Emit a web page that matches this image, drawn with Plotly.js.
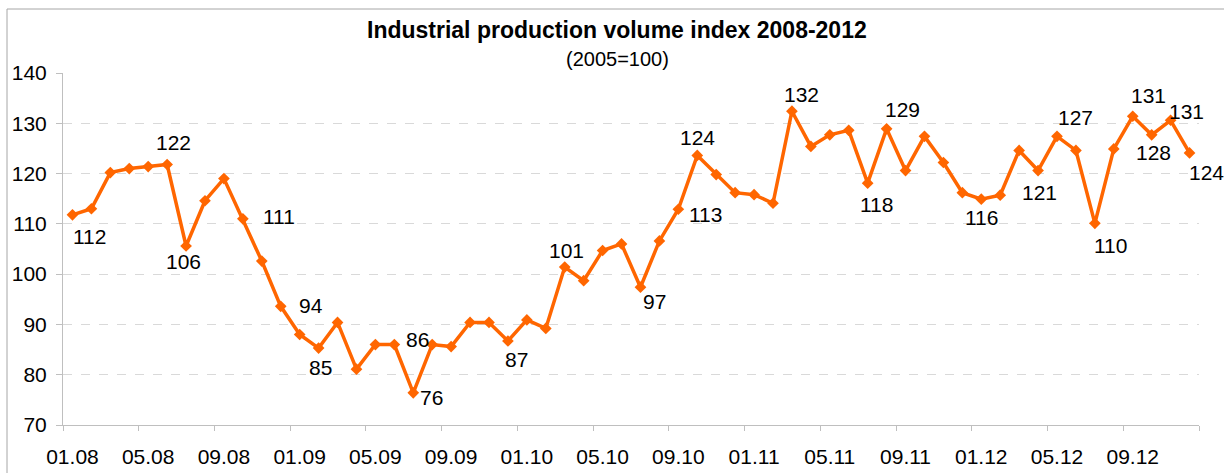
<!DOCTYPE html>
<html>
<head>
<meta charset="utf-8">
<script src="https://cdn.plot.ly/plotly-3.0.1.min.js"></script>
<style>html,body{margin:0;padding:0;background:#fff;}#chart{width:1224px;height:473px;}</style>
</head>
<body>
<div id="chart"></div>
<script>
// ---- data ----
const months = [
 "01.08","02.08","03.08","04.08","05.08","06.08","07.08","08.08","09.08","10.08","11.08","12.08",
 "01.09","02.09","03.09","04.09","05.09","06.09","07.09","08.09","09.09","10.09","11.09","12.09",
 "01.10","02.10","03.10","04.10","05.10","06.10","07.10","08.10","09.10","10.10","11.10","12.10",
 "01.11","02.11","03.11","04.11","05.11","06.11","07.11","08.11","09.11","10.11","11.11","12.11",
 "01.12","02.12","03.12","04.12","05.12","06.12","07.12","08.12","09.12","10.12","11.12","12.12"
];
const indexValues = [
 111.8,113.0,120.2,121.0,121.4,121.8,105.6,114.6,119.0,111.0,102.6,93.6,
 88.0,85.3,90.4,81.1,86.0,86.0,76.4,86.0,85.6,90.4,90.4,86.7,
 90.9,89.2,101.4,98.7,104.7,106.0,97.4,106.6,112.9,123.6,119.8,116.2,
 115.8,114.1,132.4,125.4,127.7,128.6,118.1,128.9,120.6,127.4,122.2,116.2,
 114.9,115.7,124.6,120.6,127.4,124.6,110.1,124.9,131.4,127.7,130.6,124.1
];
const tickLabels = ["01.08","05.08","09.08","01.09","05.09","09.09","01.10","05.10","09.10","01.11","05.11","09.11","01.12","05.12","09.12"];
const labelledMonths = ["01.08","06.08","07.08","10.08","12.08","02.09","07.09","08.09","12.09","03.10","07.10","09.10","10.10","03.11","07.11","08.11","12.11","04.12","05.12","07.12","09.12","10.12","11.12","12.12"];
const titleText = "Industrial production volume index 2008-2012";
const subtitleText = "(2005=100)";

// ---- label placement (style) ----
const labelShift = {
 "01.08":[17,-22],"06.08":[6,22],"07.08":[-3,-16],"10.08":[36,2],"12.08":[30,1],
 "02.09":[2,-19],"07.09":[18,-5],"08.09":[-15,5],"12.09":[9,-18],"03.10":[2,17],
 "07.10":[14,-14],"09.10":[27,-5],"10.10":[0,18],"03.11":[10,17],"07.11":[9,-21],
 "08.11":[16,19],"12.11":[19,-25],"04.12":[1,-22],"05.12":[18,19],"07.12":[16,-22],
 "09.12":[16,21],"10.12":[2,-18],"11.12":[16,9],"12.12":[17,-20]
};

const FONT = "Liberation Sans, Arial, Helvetica, sans-serif";
const idx = months.map((m,i)=>i);
const tickPos = tickLabels.map(t=>months.indexOf(t));
const boundaries = [];
for (let k=0;k<=months.length;k+=4) boundaries.push(k-0.5);

const trace = {
  x: idx, y: indexValues, xaxis: 'x2', yaxis: 'y',
  type: 'scatter', mode: 'lines+markers',
  line: {color: '#FF6600', width: 3.5},
  marker: {symbol: 'diamond', size: 9, color: '#FF6600'},
  text: months, hoverinfo: 'text+y'
};

const annotations = labelledMonths.map(m => {
  const i = months.indexOf(m);
  const s = labelShift[m];
  return {x: i, y: indexValues[i], xref: 'x', yref: 'y', text: String(Math.round(indexValues[i])),
    showarrow: false, xshift: s[0], yshift: s[1], font: {family: FONT, size: 21, color: '#000'}};
});
annotations.push({xref:'paper', yref:'paper', x:(617-63)/1136, y:(425-30)/352, text:'<b>'+titleText+'</b>',
  showarrow:false, xanchor:'center', yanchor:'middle', font:{family:FONT, size:23, color:'#000'}});
annotations.push({xref:'paper', yref:'paper', x:(617-63)/1136, y:(425-59)/352, text:subtitleText,
  showarrow:false, xanchor:'center', yanchor:'middle', font:{family:FONT, size:20, color:'#000'}});

const layout = {
  width: 1224, height: 473,
  margin: {l: 63, r: 25, t: 73, b: 48},
  paper_bgcolor: '#fff', plot_bgcolor: '#fff',
  showlegend: false,
  font: {family: FONT, size: 21, color: '#000'},
  xaxis: {
    range: [-0.5, months.length - 0.5], tickmode: 'array', tickvals: boundaries,
    showticklabels: false, ticks: 'outside', ticklen: 5, tickcolor: '#bfbfbf', tickwidth: 1,
    showline: true, linecolor: '#bfbfbf', linewidth: 1, showgrid: false, zeroline: false
  },
  xaxis2: {
    overlaying: 'x', anchor: 'y', side: 'bottom',
    range: [-0.5, months.length - 0.5], tickmode: 'array', tickvals: tickPos, ticktext: tickLabels,
    ticks: '', showline: false, showgrid: false, zeroline: false, ticklabelstandoff: 17,
    tickfont: {family: FONT, size: 21, color: '#000'}
  },
  yaxis: {
    range: [70, 140], tickmode: 'array', tickvals: [70,80,90,100,110,120,130,140],
    ticks: 'outside', ticklen: 6, tickcolor: '#bfbfbf', tickwidth: 1,
    showline: true, linecolor: '#bfbfbf', linewidth: 1,
    showgrid: true, gridcolor: '#d9d9d9', griddash: 'dash', gridwidth: 1, zeroline: false,
    ticklabelstandoff: 5, tickfont: {family: FONT, size: 21, color: '#000'}
  },
  shapes: [
    {type:'line', xref:'paper', yref:'paper', x0:(7-63)/1136, x1:(7-63)/1136, y0:-1, y1:(425-9)/352, line:{color:'#a6a6a6', width:1}},
    {type:'line', xref:'paper', yref:'paper', x0:(7-63)/1136, x1:1.1, y0:(425-9)/352, y1:(425-9)/352, line:{color:'#a6a6a6', width:1}}
  ],
  annotations: annotations
};

Plotly.newPlot('chart', [trace], layout, {displayModeBar: false, staticPlot: true});
</script>
</body>
</html>
